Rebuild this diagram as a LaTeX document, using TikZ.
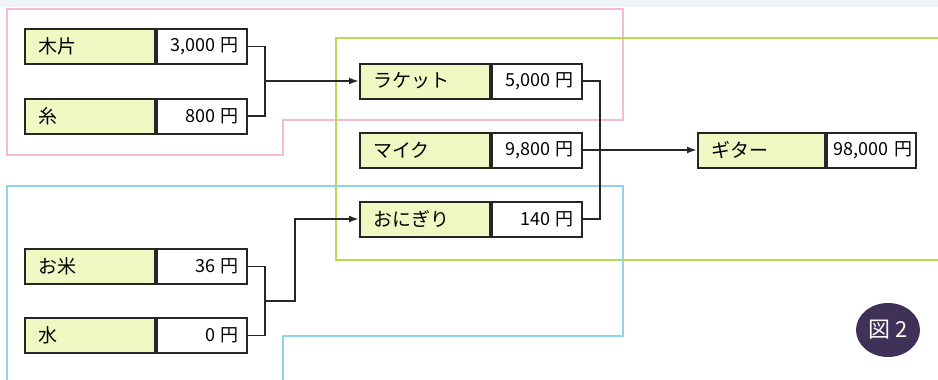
\documentclass[tikz,border=0pt]{standalone}
\usepackage{fontspec}
\setmainfont{Noto Sans CJK JP}
\usetikzlibrary{arrows.meta,calc,shapes.geometric}
\definecolor{lblfill}{HTML}{EFF7C2}
\definecolor{pinkline}{HTML}{F5B9D2}
\definecolor{greenline}{HTML}{B6DC55}
\definecolor{blueline}{HTML}{93D3EA}
\definecolor{badge}{HTML}{3F3158}
\definecolor{topband}{HTML}{EFF2F9}
\begin{document}
\begin{tikzpicture}[x=1pt,y=-1pt,
  lbl/.style={draw=black!85,line width=2pt,fill=lblfill,minimum height=35pt,inner ysep=0pt,inner xsep=13pt,text width=104pt,align=left,font=\fontsize{19pt}{22pt}\selectfont,anchor=east},
  val/.style={draw=black!85,line width=2pt,fill=white,minimum height=35pt,inner ysep=0pt,inner xsep=8pt,text width=74pt,align=right,font=\fontsize{18pt}{22pt}\selectfont,anchor=west},
  conn/.style={black!85,line width=1.8pt},
  arr/.style={conn,-{Latex[length=10pt,width=7pt]}},
  outline/.style={line width=1.8pt}]
\useasboundingbox (0,0) rectangle (938,380);
\fill[topband] (0,0) rectangle (938,7);
% region outlines
\draw[outline,pinkline] (7,9) -- (623,9) -- (623,120) -- (283,120) -- (283,155) -- (7,155) -- cycle;
\draw[outline,greenline] (945,38) -- (336,38) -- (336,260) -- (945,260);
\draw[outline,blueline] (7,390) -- (7,186) -- (623,186) -- (623,336) -- (283,336) -- (283,390);
% boxes
\node[lbl] (mokuhen) at (156,46.5) {木片};
\node[val] (mokuhenv) at (156,46.5) {3,000 円};
\node[lbl] (ito) at (156,116) {糸};
\node[val] (itov) at (156,116) {800 円};
\node[lbl] (racket) at (491,81) {ラケット};
\node[val] (racketv) at (491,81) {5,000 円};
\node[lbl] (maiku) at (491,150) {マイク};
\node[val] (maikuv) at (491,150) {9,800 円};
\node[lbl] (onigiri) at (491,219) {おにぎり};
\node[val] (onigiriv) at (491,219) {140 円};
\node[lbl,text width=101pt] (guitar) at (826,150) {ギター};
\node[val,text width=81pt,inner xsep=4pt] (guitarv) at (826,150) {98,000 円};
\node[lbl] (okome) at (156,266.5) {お米};
\node[val] (okomev) at (156,266.5) {36 円};
\node[lbl] (mizu) at (156,335.5) {水};
\node[val] (mizuv) at (156,335.5) {0 円};
% connectors
\draw[conn] (mokuhenv.east) -- ++(17,0) |- (itov.east);
\coordinate (j1) at ($(mokuhenv.east)!.5!(itov.east)+(17,0)$);
\draw[arr] (j1) |- (racket.west);
\draw[conn] (racketv.east) -- ++(17,0) |- (onigiriv.east);
\draw[arr] (maikuv.east) -- (guitar.west);
\draw[conn] (okomev.east) -- ++(17,0) |- (mizuv.east);
\coordinate (j2) at ($(okomev.east)!.5!(mizuv.east)+(17,0)$);
\draw[arr] (j2) -- ++(30,0) |- (onigiri.west);
% badge
\node[ellipse,fill=badge,minimum width=64pt,minimum height=54pt,inner sep=0pt,text=white,font=\fontsize{22pt}{24pt}\selectfont] (fig) at (888,330) {図 2};
\end{tikzpicture}
\end{document}
